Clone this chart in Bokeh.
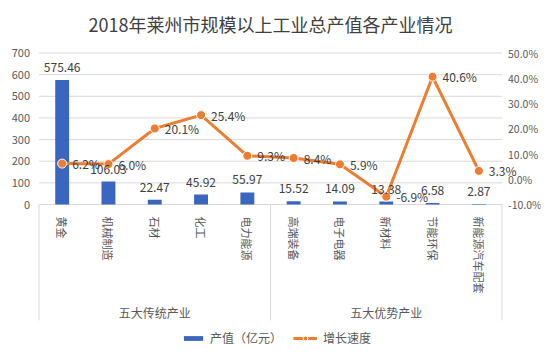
import math
from bokeh.plotting import figure
from bokeh.models import (FactorRange, Range1d, LinearAxis, CategoricalAxis, FixedTicker,
                          PrintfTickFormatter, ColumnDataSource, LabelSet, Label,
                          Legend, LegendItem)
from bokeh.core.properties import value
from bokeh.embed import file_html
from bokeh.resources import INLINE

# ---------------- data ----------------
title_text = "2018年莱州市规模以上工业总产值各产业情况"
categories = ["黄金", "机械制造", "石材", "化工", "电力能源",
              "高端装备", "电子电器", "新材料", "节能环保", "新能源汽车配套"]
groups = ["五大传统产业", "五大优势产业"]
group_sizes = [5, 5]
output_value = [575.46, 106.03, 22.47, 45.92, 55.97, 15.52, 14.09, 13.38, 6.58, 2.87]
growth_rate = [6.2, 6.0, 20.1, 25.4, 9.3, 8.4, 5.9, -6.9, 40.6, 3.3]
left_ticks = [0, 100, 200, 300, 400, 500, 600, 700]
right_ticks = [-10, 0, 10, 20, 30, 40, 50]
series_names = ["产值（亿元）", "增长速度"]

# ---------------- style / layout ----------------
FONT = "Noto Sans CJK SC"
BLUE = "#3A66C0"
ORANGE = "#ED7D31"
GRID = "#D9D9D9"
TICK_TXT = "#595959"
LABEL_TXT = "#404040"

W, H = 550, 354
FRAME_TOP = 40          # frame spans the whole canvas below the title
FRAME_RIGHT_GAP = 10
ZERO_PX = 204           # pixel row of value 0
TOP_PX = 52.5           # pixel row of the top tick
CAT_LEFT_PX = 38.5      # pixel column where the first category starts

frame_w = W - FRAME_RIGHT_GAP
ncat = len(categories)
pad = CAT_LEFT_PX * ncat / (frame_w - 2 * CAT_LEFT_PX)   # range padding in category units

s_left = (left_ticks[-1] - left_ticks[0]) / (ZERO_PX - TOP_PX)
s_right = (right_ticks[-1] - right_ticks[0]) / (ZERO_PX - TOP_PX)
y_start = left_ticks[0] - (H - ZERO_PX) * s_left
y_end = left_ticks[-1] + (TOP_PX - FRAME_TOP) * s_left
r_start = right_ticks[0] - (H - ZERO_PX) * s_right
r_end = right_ticks[-1] + (TOP_PX - FRAME_TOP) * s_right

p = figure(width=W, height=H,
           x_range=FactorRange(factors=categories, range_padding=pad,
                               range_padding_units="absolute"),
           y_range=Range1d(y_start, y_end),
           x_axis_location=None, y_axis_location=None,
           output_backend="svg", toolbar_location=None,
           min_border_left=0, min_border_right=FRAME_RIGHT_GAP,
           min_border_top=FRAME_TOP, min_border_bottom=0,
           title=title_text)
p.extra_y_ranges = {"pct": Range1d(r_start, r_end)}
p.outline_line_color = None
p.background_fill_color = "white"
p.border_fill_color = "white"
p.xgrid.visible = False
p.ygrid.visible = False

p.title.text_font = FONT
p.title.text_font_size = "18px"
p.title.text_font_style = "normal"
p.title.text_color = LABEL_TXT
p.title.align = "center"
p.title.offset = 4
p.title.standoff = 8

# gridlines (only over the category area)
p.segment(x0=0, x1=ncat, y0=left_ticks, y1=left_ticks, line_color=GRID, line_width=1)

# axes drawn inside the frame at fixed locations
ya = LinearAxis(ticker=FixedTicker(ticks=left_ticks), fixed_location=0)
ya.axis_line_color = None
ya.major_tick_line_color = None
ya.minor_tick_line_color = None
ya.major_tick_out = 0
ya.major_tick_in = 0
ya.major_label_standoff = 9
ya.major_label_text_font = FONT
ya.major_label_text_font_size = "11px"
ya.major_label_text_color = TICK_TXT
p.add_layout(ya, "left")

ra = LinearAxis(y_range_name="pct", ticker=FixedTicker(ticks=right_ticks),
                formatter=PrintfTickFormatter(format="%.1f%%"), fixed_location=ncat)
ra.axis_line_color = None
ra.major_tick_line_color = None
ra.minor_tick_line_color = None
ra.major_tick_out = 0
ra.major_tick_in = 0
ra.major_label_standoff = 6
ra.major_label_text_font = FONT
ra.major_label_text_font_size = "10.5px"
ra.major_label_text_color = TICK_TXT
p.add_layout(ra, "right")

xa = CategoricalAxis(fixed_location=0)
xa.major_label_orientation = -math.pi / 2
xa.major_tick_line_color = None
xa.major_tick_out = 0
xa.major_tick_in = 0
xa.minor_tick_line_color = None
xa.axis_line_color = None
xa.major_label_text_font = FONT
xa.major_label_text_font_size = "11px"
xa.major_label_text_color = TICK_TXT
xa.major_label_standoff = 12
p.add_layout(xa, "below")

# ---------------- glyphs ----------------
src = ColumnDataSource(dict(
    cat=categories, val=output_value, g=growth_rate,
    vlab=[f"{v:.2f}" for v in output_value],
    glab=[f"{v:.1f}%" for v in growth_rate],
))

bars = p.vbar(x="cat", top="val", width=0.3, source=src,
              fill_color=BLUE, line_color=None)
line = p.line(x="cat", y="g", source=src, y_range_name="pct",
              line_color=ORANGE, line_width=3)
pts = p.scatter(x="cat", y="g", source=src, y_range_name="pct", size=9,
                fill_color=ORANGE, line_color="white", line_width=1)

p.add_layout(LabelSet(x="cat", y="val", text="vlab", source=src,
                      text_align="center", text_baseline="bottom", y_offset=8,
                      text_font=value(FONT), text_font_size="12px",
                      text_color=LABEL_TXT))
p.add_layout(LabelSet(x="cat", y="g", text="glab", source=src, y_range_name="pct",
                      text_align="left", text_baseline="middle", x_offset=10,
                      text_font=value(FONT), text_font_size="12px",
                      text_color=LABEL_TXT))

# group labels and separators of the two-level category axis
start = 0
bounds = [0]
for gname, gs in zip(groups, group_sizes):
    p.add_layout(Label(x=start + gs / 2, y=0, y_offset=-108, text=gname,
                       text_align="center", text_baseline="middle",
                       text_font=FONT, text_font_size="12px", text_color=TICK_TXT))
    start += gs
    bounds.append(start)
sep_bottom = -116 * s_left
p.segment(x0=bounds, x1=bounds, y0=[0] * len(bounds), y1=[sep_bottom] * len(bounds),
          line_color=GRID, line_width=1)

# legends
common = dict(orientation="horizontal", label_height=16, padding=0, margin=0, spacing=0,
              border_line_color=None, background_fill_alpha=0,
              label_text_font=FONT, label_text_font_size="12px",
              label_text_color=TICK_TXT, glyph_width=24)
leg1 = Legend(items=[LegendItem(label=series_names[0], renderers=[bars])],
              location=(181, 8), glyph_height=6, label_standoff=5, **common)
leg2 = Legend(items=[LegendItem(label=series_names[1], renderers=[line, pts])],
              location=(293, 8), glyph_height=12, label_standoff=6, **common)
p.add_layout(leg1)
p.add_layout(leg2)

open("out.html", "w").write(file_html(p, INLINE))
